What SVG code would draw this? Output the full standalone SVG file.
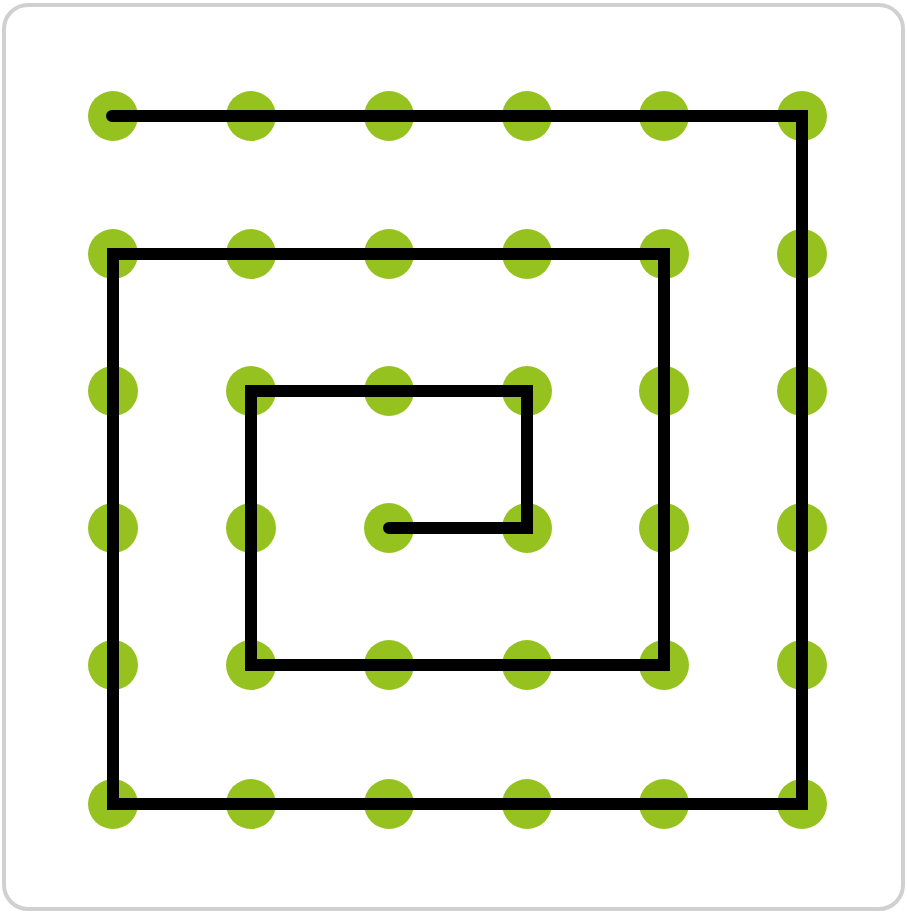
<svg xmlns="http://www.w3.org/2000/svg" width="907" height="913" viewBox="0 0 907 913">
<defs>
<style>
.frame{fill:#fff;stroke:#d0d0d0;stroke-width:4}
.dot{fill:#95c21f}
.path{fill:none;stroke:#000;stroke-width:12;stroke-linejoin:miter;stroke-linecap:round}
</style>
</defs>
<rect class="frame" x="4" y="5" width="899" height="904" rx="24"/>
<g id="dots">
<circle class="dot" cx="113" cy="116" r="25"/><circle class="dot" cx="251" cy="116" r="25"/><circle class="dot" cx="389" cy="116" r="25"/><circle class="dot" cx="527" cy="116" r="25"/><circle class="dot" cx="664" cy="116" r="25"/><circle class="dot" cx="802" cy="116" r="25"/>
<circle class="dot" cx="113" cy="254" r="25"/><circle class="dot" cx="251" cy="254" r="25"/><circle class="dot" cx="389" cy="254" r="25"/><circle class="dot" cx="527" cy="254" r="25"/><circle class="dot" cx="664" cy="254" r="25"/><circle class="dot" cx="802" cy="254" r="25"/>
<circle class="dot" cx="113" cy="391" r="25"/><circle class="dot" cx="251" cy="391" r="25"/><circle class="dot" cx="389" cy="391" r="25"/><circle class="dot" cx="527" cy="391" r="25"/><circle class="dot" cx="664" cy="391" r="25"/><circle class="dot" cx="802" cy="391" r="25"/>
<circle class="dot" cx="113" cy="528" r="25"/><circle class="dot" cx="251" cy="528" r="25"/><circle class="dot" cx="389" cy="528" r="25"/><circle class="dot" cx="527" cy="528" r="25"/><circle class="dot" cx="664" cy="528" r="25"/><circle class="dot" cx="802" cy="528" r="25"/>
<circle class="dot" cx="113" cy="665" r="25"/><circle class="dot" cx="251" cy="665" r="25"/><circle class="dot" cx="389" cy="665" r="25"/><circle class="dot" cx="527" cy="665" r="25"/><circle class="dot" cx="664" cy="665" r="25"/><circle class="dot" cx="802" cy="665" r="25"/>
<circle class="dot" cx="113" cy="804" r="25"/><circle class="dot" cx="251" cy="804" r="25"/><circle class="dot" cx="389" cy="804" r="25"/><circle class="dot" cx="527" cy="804" r="25"/><circle class="dot" cx="664" cy="804" r="25"/><circle class="dot" cx="802" cy="804" r="25"/>
</g>
<g id="connectors">
<path class="path" d="M112 116 H802 V804 H113 V254 H664 V665 H251 V391 H527 V528 H389"/>
</g>
</svg>
